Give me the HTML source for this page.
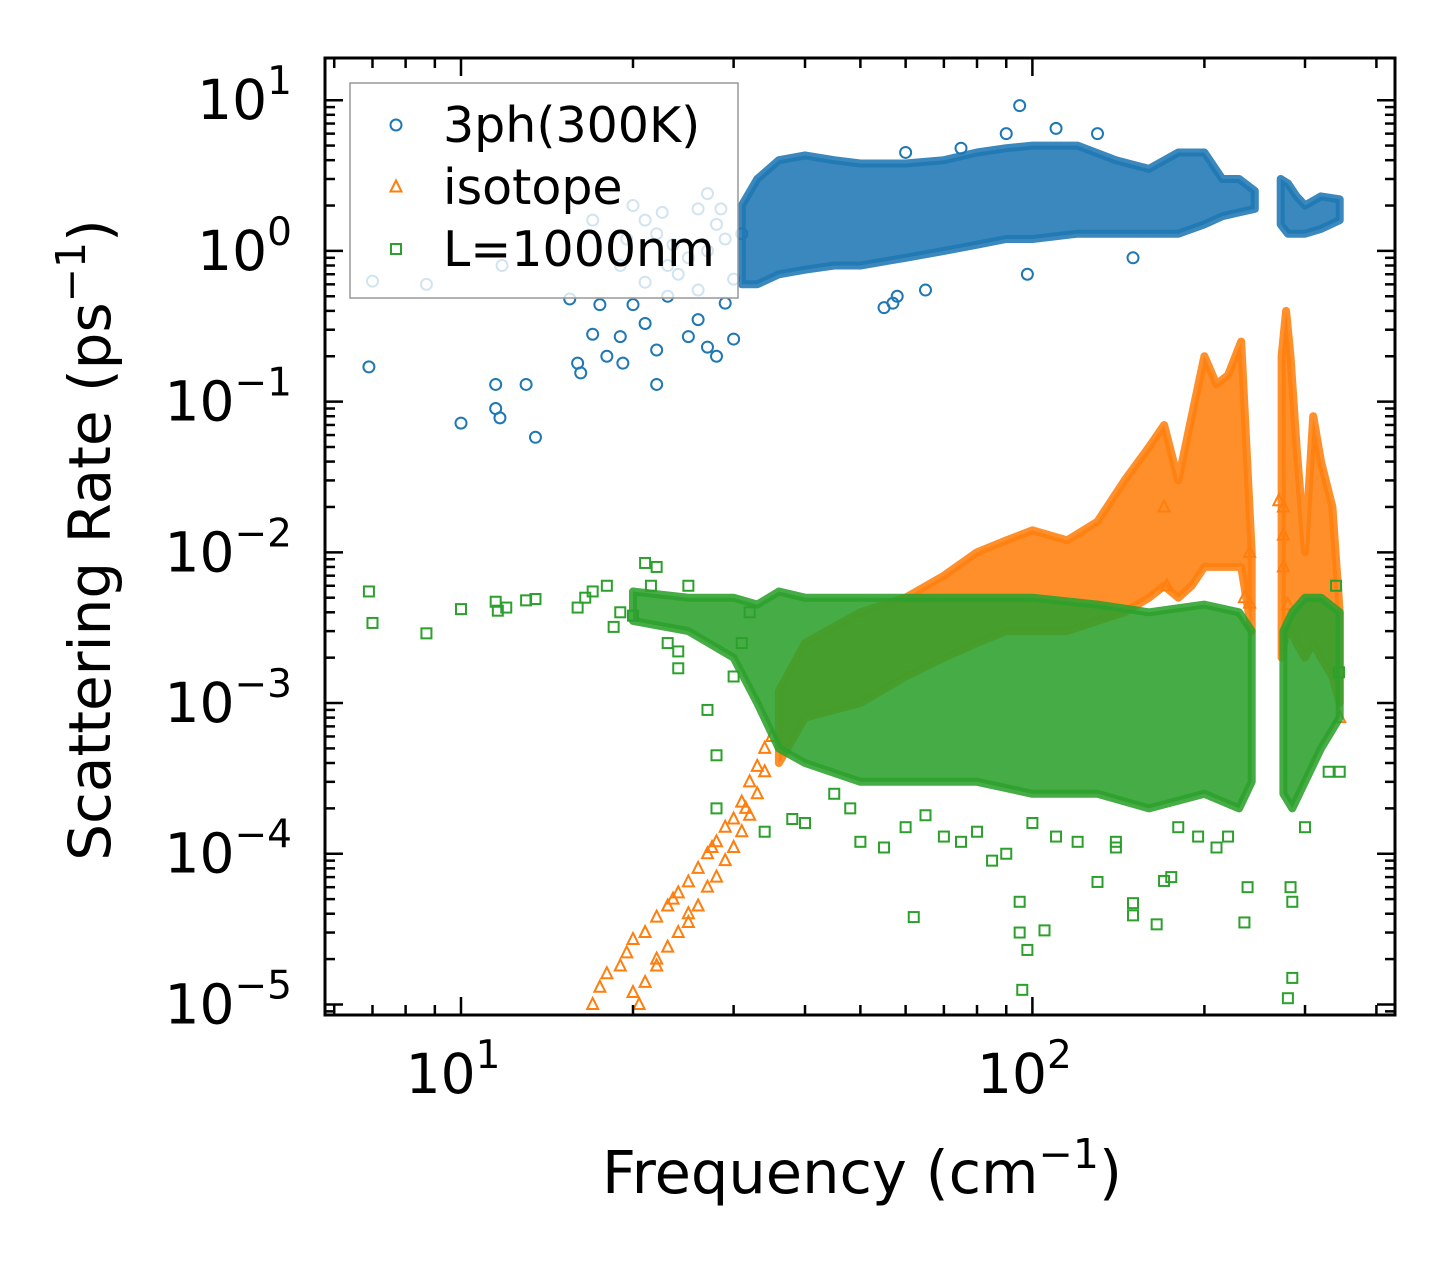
<!DOCTYPE html>
<html><head><meta charset="utf-8"><style>
body{margin:0;background:#fff;}
svg{display:block;font-family:"DejaVu Sans","Liberation Sans",sans-serif;}
</style></head><body>
<svg id="chart" width="1455" height="1265" viewBox="0 0 1455 1265" xmlns="http://www.w3.org/2000/svg">
<rect width="1455" height="1265" fill="#fff"/>
<defs><clipPath id="plotclip"><rect x="325" y="58" width="1070" height="957"/></clipPath></defs>
<g id="plot" clip-path="url(#plotclip)"></g>
<g id="axes"></g>
</svg>
<script>
// ---- data ----
const xDomainLog=[0.762,2.6346];
const yDomainLog=[-5.07,1.28];
const xMajorTicks=[10,100];
const yMajorExp=[1,0,-1,-2,-3,-4,-5];
// 3ph dense cloud (two segments)
const ph_f1=[31,33,36,40,45,50,60,70,80,90,100,120,140,160,180,200,215,230,245];
const ph_hi1=[2,3,4,4.3,4,3.8,3.8,4,4.5,4.8,5,5,4,3.5,4.5,4.5,3,3,2.5];
const ph_lo1=[0.6,0.6,0.7,0.75,0.8,0.8,0.9,1,1.1,1.2,1.2,1.3,1.3,1.3,1.3,1.5,1.7,1.8,1.9];
const ph_f2=[272,280,290,300,320,345];
const ph_hi2=[3,2.8,2.3,2,2.3,2.2];
const ph_lo2=[1.5,1.3,1.3,1.3,1.4,1.6];
const ph_px=[6.9,10,11.5,11.5,11.7,13,13.5,7,8.7,11.8,15.5,16,16.2,17,17.5,18,19,19.2,20,21,22,22,23,25,26,27,28,29,30,17,19.5,20,21,22,22.5,23.5,25,26,27,28,28.5,29,24,26,21,19,23,30,27,31,55,57,58,65,95,98,150,90,110,130,60,75];
const ph_py=[0.17,0.072,0.13,0.09,0.078,0.13,0.058,0.63,0.6,0.8,0.48,0.18,0.155,0.28,0.44,0.2,0.27,0.18,0.44,0.33,0.13,0.22,0.5,0.27,0.35,0.23,0.2,0.45,0.26,1.6,1.2,2,1.6,1.3,1.8,1.1,0.9,1.9,2.4,1.5,1.9,1.2,0.7,0.55,0.62,0.8,0.8,0.65,1.0,1.3,0.42,0.45,0.5,0.55,9.2,0.7,0.9,6,6.5,6,4.5,4.8];
// isotope
const iso_f1=[36,40,50,60,70,80,90,100,115,130,145,160,170,180,190,200,210,220,232,242];
const iso_hi1=[1.2e-3,2.5e-3,4e-3,5e-3,7e-3,1e-2,1.2e-2,1.4e-2,1.2e-2,1.6e-2,3e-2,5e-2,7e-2,3e-2,8e-2,2e-1,1.3e-1,1.5e-1,2.5e-1,1e-2];
const iso_lo1=[4e-4,8e-4,1e-3,1.5e-3,2e-3,2.5e-3,3e-3,3e-3,3e-3,3.5e-3,4e-3,5e-3,6e-3,5e-3,6e-3,8e-3,8e-3,8e-3,8e-3,3e-3];
const iso_f2=[273,278,283,290,300,310,320,335,345];
const iso_hi2=[2e-1,4e-1,2e-1,5e-2,1e-2,8e-2,4e-2,2e-2,4e-3];
const iso_lo2=[2e-3,3e-3,3e-3,2.5e-3,2e-3,2.5e-3,2e-3,1.5e-3,1e-3];
const iso_px=[17,18,19,20,21,22,23,24,25,26,27,28,29,30,31,32,33,34,35,20.5,21,22,23,24,25,26,27,28,29,30,31,32,33,34,17.5,19.5,23.5,27.5,31.5,170,240,235,275,275,275,280,240,345,172,270,20,22,25];
const iso_py=[1e-5,1.6e-5,1.8e-5,2.7e-5,3e-5,3.8e-5,4.5e-5,5.5e-5,6.5e-5,8e-5,1e-4,1.2e-4,1.5e-4,1.7e-4,2.2e-4,3e-4,3.8e-4,5e-4,6e-4,1e-5,1.4e-5,1.8e-5,2.4e-5,3e-5,3.5e-5,4.5e-5,6e-5,7e-5,9e-5,1.1e-4,1.4e-4,1.8e-4,2.5e-4,3.5e-4,1.3e-5,2.2e-5,5e-5,1.1e-4,2e-4,2e-2,1e-2,5e-3,2e-2,1.3e-2,8e-3,4.5e-3,4.6e-3,8e-4,6e-3,2.2e-2,1.2e-5,2e-5,4e-5];
// L=1000nm
const bd_f1=[20,25,30,33,36,40,50,60,80,100,130,160,200,230,242];
const bd_hi1=[5.5e-3,5e-3,5e-3,4.5e-3,5.5e-3,5e-3,5e-3,5e-3,5e-3,5e-3,4.5e-3,4e-3,4.5e-3,4e-3,3e-3];
const bd_lo1=[3.5e-3,3e-3,2e-3,1e-3,5e-4,4e-4,3e-4,3e-4,3e-4,2.5e-4,2.5e-4,2e-4,2.5e-4,2e-4,3e-4];
const bd_f2=[275,285,300,320,345];
const bd_hi2=[3e-3,4e-3,5e-3,5e-3,4e-3];
const bd_lo2=[2.5e-4,2e-4,3e-4,5e-4,8e-4];
const bd_px=[6.9,7,8.7,10,11.5,11.6,12,13,13.5,16,16.5,17,18,18.5,19,20,21,22,21.5,23,24,24,25,27,28,28,30,31,32,34,38,40,45,50,55,62,70,75,85,95,95,96,98,105,120,130,140,150,150,165,170,175,195,210,235,238,280,285,285,283,90,300,330,345,344,340,60,80,110,140,180,220,48,65,100];
const bd_py=[5.5e-3,3.4e-3,2.9e-3,4.2e-3,4.7e-3,4.1e-3,4.3e-3,4.8e-3,4.9e-3,4.3e-3,5e-3,5.5e-3,6e-3,3.2e-3,4e-3,3.8e-3,8.5e-3,8e-3,6e-3,2.5e-3,1.7e-3,2.2e-3,6e-3,9e-4,4.5e-4,2e-4,1.5e-3,2.5e-3,4e-3,1.4e-4,1.7e-4,1.6e-4,2.5e-4,1.2e-4,1.1e-4,3.8e-5,1.3e-4,1.2e-4,9e-5,4.8e-5,3e-5,1.25e-5,2.3e-5,3.1e-5,1.2e-4,6.5e-5,1.1e-4,4.7e-5,3.9e-5,3.4e-5,6.6e-5,7e-5,1.3e-4,1.1e-4,3.5e-5,6e-5,1.1e-5,1.5e-5,4.8e-5,6e-5,1e-4,1.5e-4,3.5e-4,3.5e-4,1.6e-3,6e-3,1.5e-4,1.4e-4,1.3e-4,1.2e-4,1.5e-4,1.3e-4,2e-4,1.8e-4,1.6e-4];

// ---- scales ----
const X0=325,X1=1395,Y0=58,Y1=1015;
const NS="http://www.w3.org/2000/svg";
function sx(v){return X0+(Math.log10(v)-xDomainLog[0])/(xDomainLog[1]-xDomainLog[0])*(X1-X0);}
function sy(v){return Y1-(Math.log10(v)-yDomainLog[0])/(yDomainLog[1]-yDomainLog[0])*(Y1-Y0);}
function mk(tag,attrs,parent){const e=document.createElementNS(NS,tag);for(const k in attrs)e.setAttribute(k,attrs[k]);parent.appendChild(e);return e;}
const plot=document.getElementById('plot');
const axes=document.getElementById('axes');
const C={b:'#1f77b4',o:'#ff7f0e',g:'#2ca02c'};

function band(f,hi,lo,color,name){
  let d='M'+f.map((v,i)=>sx(v).toFixed(1)+','+sy(hi[i]).toFixed(1)).join('L');
  for(let i=f.length-1;i>=0;i--)d+='L'+sx(f[i]).toFixed(1)+','+sy(lo[i]).toFixed(1);
  d+='Z';
  const p=mk('path',{d:d,fill:color,'fill-opacity':0.88,stroke:color,'stroke-width':8,'stroke-linejoin':'round','stroke-opacity':0.88},plot);
  
  
}
function marker(type,x,y,color,parent,name){
  let e;
  if(type==='c')e=mk('circle',{cx:x,cy:y,r:5.5,fill:'none',stroke:color,'stroke-width':2},parent);
  else if(type==='t')e=mk('path',{d:`M${x},${y-6.5}L${x+5.5},${y+4.5}L${x-5.5},${y+4.5}Z`,fill:'none',stroke:color,'stroke-width':2},parent);
  else e=mk('rect',{x:x-5,y:y-5,width:10,height:10,fill:'none',stroke:color,'stroke-width':2},parent);
  
  
  return e;
}
function points(px,py,type,color,name){
  px.forEach((v,i)=>marker(type,sx(v),sy(py[i]),color,plot,name));
}
band(ph_f1,ph_hi1,ph_lo1,C.b,'3ph-cloud');
band(ph_f2,ph_hi2,ph_lo2,C.b,'3ph-cloud-high');
points(ph_px,ph_py,'c',C.b,'3ph-point');
band(iso_f1,iso_hi1,iso_lo1,C.o,'isotope-cloud');
band(iso_f2,iso_hi2,iso_lo2,C.o,'isotope-cloud-high');
points(iso_px,iso_py,'t',C.o,'isotope-point');
band(bd_f1,bd_hi1,bd_lo1,C.g,'boundary-cloud');
band(bd_f2,bd_hi2,bd_lo2,C.g,'boundary-cloud-high');
points(bd_px,bd_py,'s',C.g,'boundary-point');

// ---- legend ----
const lg=mk('g',{},axes);


mk('rect',{x:350,y:83,width:388,height:215,fill:'#fff','fill-opacity':0.8,stroke:'#999','stroke-width':1.5},lg);
const legTypes=['c','t','s'],legCols=[C.b,C.o,C.g],legLabels=['3ph(300K)','isotope','L=1000nm'];
legLabels.forEach((t,i)=>{
  const y=125+i*62;
  marker(legTypes[i],396,y,legCols[i],lg,'legend-marker');
  const tx=mk('text',{x:443,y:y+17,'font-size':49,fill:'#000'},lg);
  tx.textContent=t;
  
  
});

// ---- axes frame & ticks ----
mk('rect',{x:X0,y:Y0,width:X1-X0,height:Y1-Y0,fill:'none',stroke:'#000','stroke-width':3},axes);
function tick(x1,y1,x2,y2){mk('line',{x1,y1,x2,y2,stroke:'#000','stroke-width':2.5},axes);}
for(let e=0;e<=3;e++)for(let m=1;m<=9;m++){
  const v=m*Math.pow(10,e);const x=sx(v);
  if(x<X0+1||x>X1-1)continue;
  const L=m===1?18:10;
  tick(x,Y1,x,Y1-L);tick(x,Y0,x,Y0+L);
}
for(let e=-6;e<=2;e++)for(let m=1;m<=9;m++){
  const v=m*Math.pow(10,e);const y=sy(v);
  if(y<Y0+1||y>Y1-1)continue;
  const L=m===1?18:10;
  tick(X0,y,X0+L,y);tick(X1,y,X1-L,y);
}
function powLabel(x,y,exp,anchor,name){
  const t=mk('text',{x:x,y:y,'font-size':55,'text-anchor':anchor,fill:'#000'},axes);
  const a=mk('tspan',{},t);a.textContent='10';
  const b=mk('tspan',{dy:-25,'font-size':39},t);b.textContent=exp;
  
  
}
xMajorTicks.forEach(v=>powLabel(sx(v)-8,1093,String(Math.round(Math.log10(v))),'middle','x-tick-label'));
yMajorExp.forEach(e=>powLabel(292,sy(Math.pow(10,e))+19,e<0?'\u2212'+(-e):String(e),'end','y-tick-label'));

const xl=mk('text',{x:862,y:1193,'font-size':59,'text-anchor':'middle',fill:'#000'},axes);
xl.innerHTML='Frequency (cm<tspan dy="-25" font-size="41">\u22121</tspan><tspan dy="25">)</tspan>';


const yl=mk('text',{x:0,y:0,'font-size':58,'text-anchor':'middle',fill:'#000',transform:'translate(110,540) rotate(-90)'},axes);
yl.innerHTML='Scattering Rate (ps<tspan dy="-25" font-size="41">\u22121</tspan><tspan dy="25">)</tspan>';


</script>
</body></html>
